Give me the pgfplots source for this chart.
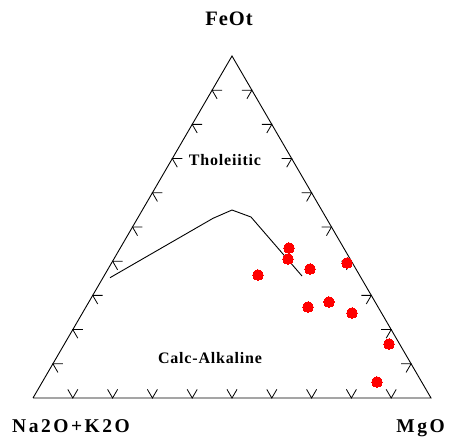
\documentclass[border=0pt]{standalone}
\usepackage{fontspec}
\setmainfont{Liberation Serif}
\newfontfamily\lsfont[LetterSpace=13]{Liberation Serif}
\newfontfamily\lsfontb[LetterSpace=5]{Liberation Serif}
\usepackage{pgfplots}
\pgfplotsset{compat=1.18}
\begin{document}
\begin{tikzpicture}
\path[use as bounding box] (0,0) rectangle (449pt,446pt);
\begin{axis}[at={(33pt,48pt)}, anchor=south west, scale only axis,
  width=398pt, height=342pt, xmin=0, xmax=100, ymin=0, ymax=86.6,
  hide axis, clip=false, unbounded coords=jump]
% triangle outline
\addplot[black, line width=0.9pt] coordinates {(0,0) (100,0) (50,86.6) (0,0)};
% left edge ticks
\addplot[black, line width=0.8pt] coordinates {
(7.51,8.66) (5,8.66) (6.26,6.48) (nan,nan)
(12.51,17.32) (10,17.32) (11.26,15.14) (nan,nan)
(17.51,25.98) (15,25.98) (16.26,23.80) (nan,nan)
(22.51,34.64) (20,34.64) (21.26,32.46) (nan,nan)
(27.51,43.30) (25,43.30) (26.26,41.12) (nan,nan)
(32.51,51.96) (30,51.96) (31.26,49.78) (nan,nan)
(37.51,60.62) (35,60.62) (36.26,58.44) (nan,nan)
(42.51,69.28) (40,69.28) (41.26,67.10) (nan,nan)
(47.51,77.94) (45,77.94) (46.26,75.76)
};
% right edge ticks
\addplot[black, line width=0.8pt] coordinates {
(92.49,8.66) (95,8.66) (93.74,6.48) (nan,nan)
(87.49,17.32) (90,17.32) (88.74,15.14) (nan,nan)
(82.49,25.98) (85,25.98) (83.74,23.80) (nan,nan)
(77.49,34.64) (80,34.64) (78.74,32.46) (nan,nan)
(72.49,43.30) (75,43.30) (73.74,41.12) (nan,nan)
(67.49,51.96) (70,51.96) (68.74,49.78) (nan,nan)
(62.49,60.62) (65,60.62) (63.74,58.44) (nan,nan)
(57.49,69.28) (60,69.28) (58.74,67.10) (nan,nan)
(52.49,77.94) (55,77.94) (53.74,75.76)
};
% bottom edge ticks
\addplot[black, line width=0.8pt] coordinates {
(8.74,2.18) (10,0) (11.26,2.18) (nan,nan)
(18.74,2.18) (20,0) (21.26,2.18) (nan,nan)
(28.74,2.18) (30,0) (31.26,2.18) (nan,nan)
(38.74,2.18) (40,0) (41.26,2.18) (nan,nan)
(48.74,2.18) (50,0) (51.26,2.18) (nan,nan)
(58.74,2.18) (60,0) (61.26,2.18) (nan,nan)
(68.74,2.18) (70,0) (71.26,2.18) (nan,nan)
(78.74,2.18) (80,0) (81.26,2.18) (nan,nan)
(88.74,2.18) (90,0) (91.26,2.18)
};
% Tholeiitic / Calc-Alkaline boundary
\addplot[black, line width=0.9pt] coordinates {
(19.35,30.46) (45.23,45.50) (50.00,47.60) (54.77,45.83) (67.59,30.89)
};
% samples
\addplot[red, only marks, mark=*, mark size=5.3pt, mark options={draw=red, fill=red, line width=0pt}] coordinates {
(64.32,37.98) (64.07,35.19) (56.53,31.14) (69.60,32.66) (78.90,34.18)
(69.10,23.04) (74.37,24.31) (80.15,21.52) (89.45,13.67) (86.43,4.05)
};
\end{axis}
\node[anchor=base, inner sep=0pt, font=\lsfontb\bfseries\fontsize{20.5}{24}\selectfont] at (229pt,420pt) {FeOt};
\node[anchor=base west, inner sep=0pt, font=\lsfont\bfseries\fontsize{19.5}{23}\selectfont] at (12pt,13pt) {Na2O+K2O};
\node[anchor=base east, inner sep=0pt, font=\lsfont\bfseries\fontsize{19.5}{23}\selectfont] at (445pt,13pt) {MgO};
\node[anchor=base, inner sep=0pt, font=\lsfontb\bfseries\fontsize{16}{20}\selectfont] at (225pt,280pt) {Tholeiitic};
\node[anchor=base, inner sep=0pt, font=\lsfontb\bfseries\fontsize{16}{20}\selectfont] at (210pt,82pt) {Calc-Alkaline};
\end{tikzpicture}
\end{document}
